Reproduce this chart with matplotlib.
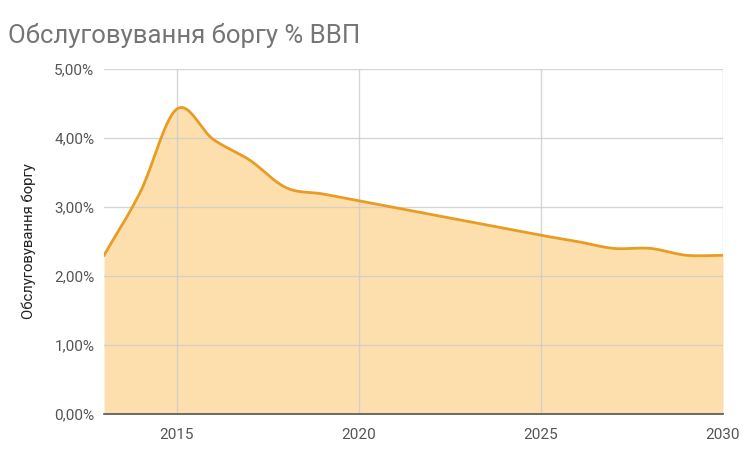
import numpy as np
import matplotlib.pyplot as plt

plt.rcParams['font.family'] = ['Roboto', 'DejaVu Sans']

years = [2013, 2014, 2015, 2016, 2017, 2018, 2019, 2020, 2021, 2022,
         2023, 2024, 2025, 2026, 2027, 2028, 2029, 2030]
debt_service = [2.30, 3.22, 4.42, 3.98, 3.68, 3.28, 3.19, 3.09, 2.99, 2.89,
                2.79, 2.69, 2.59, 2.50, 2.40, 2.40, 2.30, 2.30]
yticks = [0, 1, 2, 3, 4, 5]
ytick_labels = ['0,00%', '1,00%', '2,00%', '3,00%', '4,00%', '5,00%']
xticks = [2015, 2020, 2025, 2030]


def smooth(x, y, n=20):
    # cubic hermite (catmull-rom tangents) just for drawing a smooth line
    x = np.asarray(x, float)
    y = np.asarray(y, float)
    m = np.gradient(y, x)
    xs, ys = [], []
    for i in range(len(x) - 1):
        h = x[i + 1] - x[i]
        t = np.linspace(0, 1, n, endpoint=False)
        h00 = 2 * t**3 - 3 * t**2 + 1
        h10 = t**3 - 2 * t**2 + t
        h01 = -2 * t**3 + 3 * t**2
        h11 = t**3 - t**2
        xs.append(x[i] + t * h)
        ys.append(h00 * y[i] + h10 * h * m[i] + h01 * y[i + 1] + h11 * h * m[i + 1])
    xs.append([x[-1]])
    ys.append([y[-1]])
    return np.concatenate(xs), np.concatenate(ys)


xs, ys = smooth(years, debt_service)

fig = plt.figure(figsize=(7.46, 4.51), dpi=100)
ax = fig.add_axes([104 / 746, 1 - 414 / 451, (723 - 104) / 746, (414 - 69) / 451])

ax.fill_between(xs, ys, 0, color='#fddfae', linewidth=0, zorder=1)
ax.plot(xs, ys, color='#e89c24', linewidth=2.0, zorder=3)

ax.set_xlim(2013, 2030)
ax.set_ylim(0, 5)
ax.set_xticks(xticks)
ax.set_yticks(yticks)
ax.set_yticklabels(ytick_labels)
ax.grid(True, color='#cccccc', linewidth=1, zorder=0)
ax.set_axisbelow(False)
for gl in ax.get_xgridlines() + ax.get_ygridlines():
    gl.set_zorder(2)
    gl.set_alpha(0.8)

for s in ['top', 'right', 'left']:
    ax.spines[s].set_visible(False)
ax.spines['bottom'].set_color('#555555')
ax.spines['bottom'].set_linewidth(1.2)
ax.spines['bottom'].set_zorder(4)
ax.tick_params(length=0, labelsize=11, colors='#555555')
ax.tick_params(axis='x', pad=10)
ax.tick_params(axis='y', pad=7)

ax.set_ylabel('Обслуговування боргу', fontsize=10.7, color='#222222', labelpad=13)
fig.text(8 / 746, 1 - 35 / 451, 'Обслуговування боргу % ВВП', fontsize=18.5,
         color='#757575', va='center', ha='left')

fig.savefig('out.png', dpi=100)
